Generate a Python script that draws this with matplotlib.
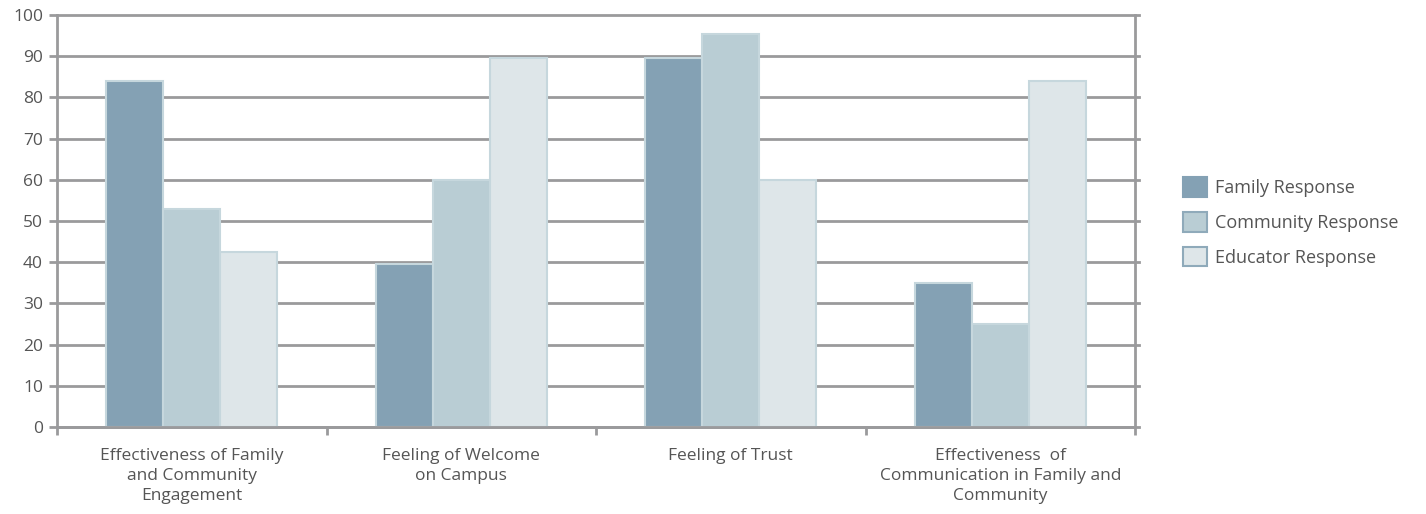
import matplotlib
matplotlib.use("Agg")
import matplotlib.pyplot as plt
from matplotlib.patches import Patch
import numpy as np

categories = ["Effectiveness of Family\nand Community\nEngagement",
              "Feeling of Welcome\non Campus",
              "Feeling of Trust",
              "Effectiveness  of\nCommunication in Family and\nCommunity"]
series_names = ["Family Response", "Community Response", "Educator Response"]
family = [84, 39.5, 89.5, 35]
community = [53, 60, 95.5, 25]
educator = [42.5, 89.5, 60, 84]
y_ticks = [0, 10, 20, 30, 40, 50, 60, 70, 80, 90, 100]

colors = ["#84A1B4", "#B9CDD4", "#DEE6E9"]
legend_edges = ["#84A1B4", "#8FAABA", "#8FAABA"]
grid_c = "#9A9A9C"
text_c = "#555555"

plt.rcParams['font.family'] = ['Open Sans', 'DejaVu Sans']

fig = plt.figure(figsize=(14.26, 5.14), dpi=100)
ax = fig.add_axes([57/1426, 1-427/514, (1135-57)/1426, (427-15)/514])

x = np.arange(len(categories))
w = 0.212
for i, vals in enumerate([family, community, educator]):
    ax.bar(x + (i-1)*w, vals, width=w, color=colors[i], edgecolor="#C6D7DD",
           linewidth=1.5, zorder=3)

ax.set_xlim(-0.5, len(categories)-0.5)
ax.set_ylim(0, 100)
ax.set_yticks(y_ticks)
ax.set_yticklabels([str(t) for t in y_ticks], fontsize=12.5, color=text_c)
for t in y_ticks:
    ax.axhline(t, color=grid_c, lw=2, zorder=1, clip_on=False, xmax=1.004)

ax.set_xticks(x)
ax.set_xticklabels(categories, fontsize=12.5, color=text_c, linespacing=1.35)
ax.tick_params(axis='x', length=0, pad=15)
ax.set_xticks(np.arange(-0.5, len(categories)), minor=True)
ax.tick_params(axis='x', which='minor', length=6, width=2, color=grid_c)
ax.tick_params(axis='y', length=6, width=2, color=grid_c, pad=4)

for s in ['top']:
    ax.spines[s].set_visible(False)
for s in ['left', 'right', 'bottom']:
    ax.spines[s].set_color(grid_c)
    ax.spines[s].set_linewidth(2)
    ax.spines[s].set_zorder(4)

handles = [Patch(facecolor=colors[i], edgecolor=legend_edges[i], linewidth=1.5,
                 label=series_names[i]) for i in range(3)]
fig.legend(handles=handles, loc='center left', bbox_to_anchor=(1167/1426, 1-222/514),
           frameon=False, fontsize=13, labelcolor=text_c,
           handlelength=1.3, handleheight=1.3, handletextpad=0.45, labelspacing=0.82)

fig.savefig("out.png", dpi=100)
